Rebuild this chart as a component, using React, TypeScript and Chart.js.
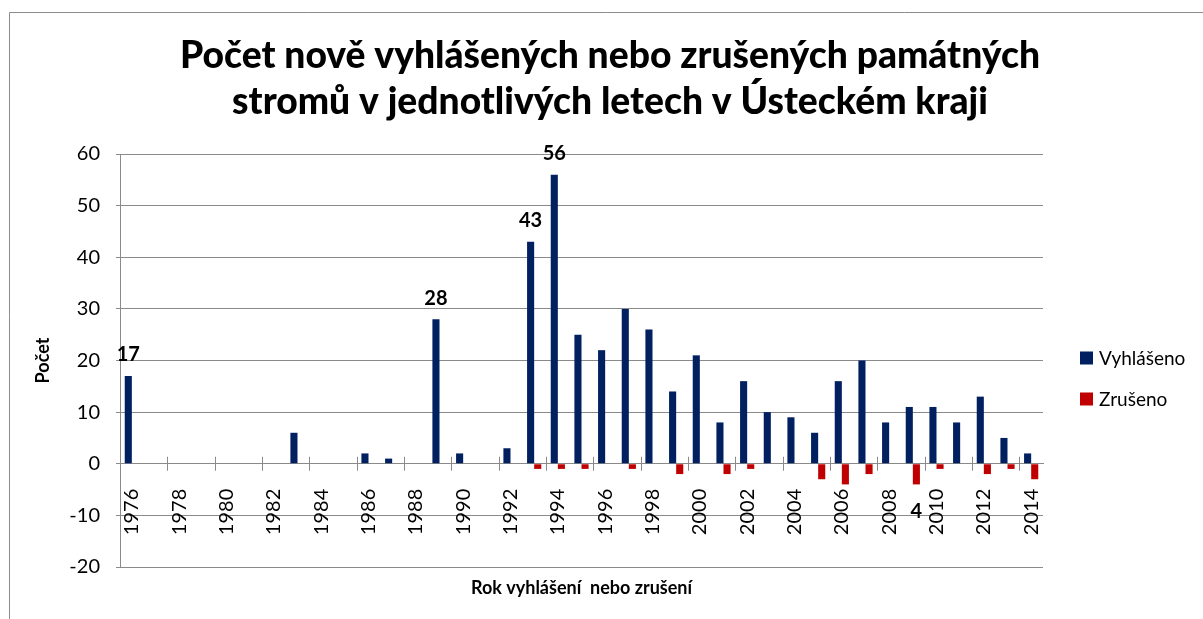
import React, { useEffect, useRef } from 'react';
import { Chart, registerables } from 'chart.js';

Chart.register(...registerables);

const years: string[] = [
  '1976', '1977', '1978', '1979', '1980', '1981', '1982', '1983', '1984', '1985',
  '1986', '1987', '1988', '1989', '1990', '1991', '1992', '1993', '1994', '1995',
  '1996', '1997', '1998', '1999', '2000', '2001', '2002', '2003', '2004', '2005',
  '2006', '2007', '2008', '2009', '2010', '2011', '2012', '2013', '2014',
];

const vyhlaseno: number[] = [
  17, 0, 0, 0, 0, 0, 0, 6, 0, 0,
  2, 1, 0, 28, 2, 0, 3, 43, 56, 25,
  22, 30, 26, 14, 21, 8, 16, 10, 9, 6,
  16, 20, 8, 11, 11, 8, 13, 5, 2,
];

const zruseno: number[] = [
  0, 0, 0, 0, 0, 0, 0, 0, 0, 0,
  0, 0, 0, 0, 0, 0, 0, -1, -1, -1,
  0, -1, 0, -2, 0, -2, -1, 0, 0, -3,
  -4, -2, 0, -4, -1, 0, -2, -1, -3,
];

const labeledVyhlaseno: string[] = ['1976', '1989', '1993', '1994'];
const labeledZruseno: string[] = ['2009'];

const titleLines: string[] = [
  'Počet nově vyhlášených nebo zrušených památných',
  'stromů v jednotlivých letech v Ústeckém kraji',
];
const yTitle = 'Počet';
const xTitle = 'Rok vyhlášení  nebo zrušení';
const seriesNames: string[] = ['Vyhlášeno', 'Zrušeno'];

const BLUE = '#002060';
const RED = '#C00000';
const GRID = '#8a8a8a';
const FONT = 'Lato, "Liberation Sans", sans-serif';

const decorPlugin = {
  id: 'decor',
  beforeDraw(chart: any) {
    const ctx = chart.ctx;
    ctx.save();
    ctx.strokeStyle = '#8c8c8c';
    ctx.lineWidth = 1;
    ctx.beginPath();
    ctx.moveTo(9.5, chart.height);
    ctx.lineTo(9.5, 12.5);
    ctx.lineTo(chart.width, 12.5);
    ctx.stroke();
    ctx.restore();
  },
  afterDatasetsDraw(chart: any) {
    const ctx = chart.ctx;
    const xs = chart.scales.x;
    const ys = chart.scales.y;
    const area = chart.chartArea;
    const y0 = ys.getPixelForValue(0);
    const half = (xs.getPixelForValue(1) - xs.getPixelForValue(0)) / 2;

    ctx.save();
    // crossing tick marks every 2 categories
    ctx.strokeStyle = GRID;
    ctx.lineWidth = 1;
    for (let i = 0; i < years.length; i += 2) {
      const px = Math.round(xs.getPixelForValue(i) - half) + 0.5;
      if (px <= area.left + 1) continue;
      ctx.beginPath();
      ctx.moveTo(px, y0 - 7);
      ctx.lineTo(px, y0 + 7);
      ctx.stroke();
    }

    // title
    ctx.fillStyle = '#000';
    ctx.textAlign = 'center';
    ctx.textBaseline = 'alphabetic';
    ctx.font = `900 38px ${FONT}`;
    const w1 = ctx.measureText(titleLines[0]).width;
    const sx = 860 / w1;
    const cx = 610;
    const baselines = [68, 114];
    titleLines.forEach((line, i) => {
      ctx.save();
      ctx.translate(cx, baselines[i]);
      ctx.scale(sx, 1);
      ctx.fillText(line, 0, 0);
      ctx.restore();
    });

    // x axis title
    ctx.font = `bold 18px ${FONT}`;
    ctx.textBaseline = 'middle';
    ctx.fillText(xTitle, (area.left + area.right) / 2, 588);

    // data labels
    ctx.font = `bold 20px ${FONT}`;
    const m0 = chart.getDatasetMeta(0);
    const m1 = chart.getDatasetMeta(1);
    years.forEach((yr, i) => {
      if (labeledVyhlaseno.includes(yr)) {
        const el = m0.data[i];
        ctx.fillText(String(Math.abs(vyhlaseno[i])), el.x, el.y - 21);
      }
      if (labeledZruseno.includes(yr)) {
        const el = m1.data[i];
        ctx.fillText(String(Math.abs(zruseno[i])), el.x, el.y + 27);
      }
    });

    // legend
    ctx.textAlign = 'left';
    ctx.font = `19px ${FONT}`;
    const legendY = [358, 399];
    chart.data.datasets.forEach((ds: any, i: number) => {
      ctx.fillStyle = ds.backgroundColor;
      ctx.fillRect(1080, legendY[i] - 6.5, 13, 13);
      ctx.fillStyle = '#000';
      ctx.fillText(ds.label, 1099, legendY[i] + 1);
    });
    ctx.restore();
  },
};

export default function App() {
  const ref = useRef<HTMLCanvasElement | null>(null);

  useEffect(() => {
    if (!ref.current) return;
    const chart = new Chart(ref.current, {
      type: 'bar',
      data: {
        labels: years,
        datasets: [
          {
            label: seriesNames[0],
            data: vyhlaseno,
            backgroundColor: BLUE,
            categoryPercentage: 0.6,
            barPercentage: 1,
          },
          {
            label: seriesNames[1],
            data: zruseno,
            backgroundColor: RED,
            categoryPercentage: 0.6,
            barPercentage: 1,
          },
        ],
      },
      options: {
        responsive: false,
        animation: false,
        layout: { padding: { left: 0, right: 160, top: 154, bottom: 52 } },
        plugins: {
          legend: { display: false },
          title: { display: false },
          tooltip: { enabled: false },
        },
        scales: {
          x: {
            position: { y: 0 } as any,
            grid: { display: false },
            border: { display: true, color: GRID, width: 1 },
            ticks: {
              autoSkip: false,
              minRotation: 90,
              maxRotation: 90,
              padding: 17,
              color: '#000',
              font: { family: FONT, size: 20 },
              callback: (_v: any, i: number) => (i % 2 === 0 ? years[i] : ''),
            },
          },
          y: {
            min: -20,
            max: 60,
            afterFit: (scale: any) => {
              scale.width = 120;
            },
            grid: { color: GRID, tickLength: 4, drawTicks: true },
            border: { display: true, color: GRID, width: 1 },
            ticks: {
              stepSize: 10,
              padding: 16,
              color: '#000',
              font: { family: FONT, size: 20 },
            },
            title: {
              display: true,
              text: yTitle,
              color: '#000',
              font: { family: FONT, size: 18, weight: 'bold' },
              padding: { top: 32, bottom: 0 },
            },
          },
        },
      },
      plugins: [decorPlugin],
    });
    return () => chart.destroy();
  }, []);

  return (
    <div style={{ position: 'absolute', left: 0, top: 0, width: 1203, height: 619, background: '#fff' }}>
      <canvas ref={ref} width={1203} height={619} style={{ display: 'block' }} />
    </div>
  );
}
